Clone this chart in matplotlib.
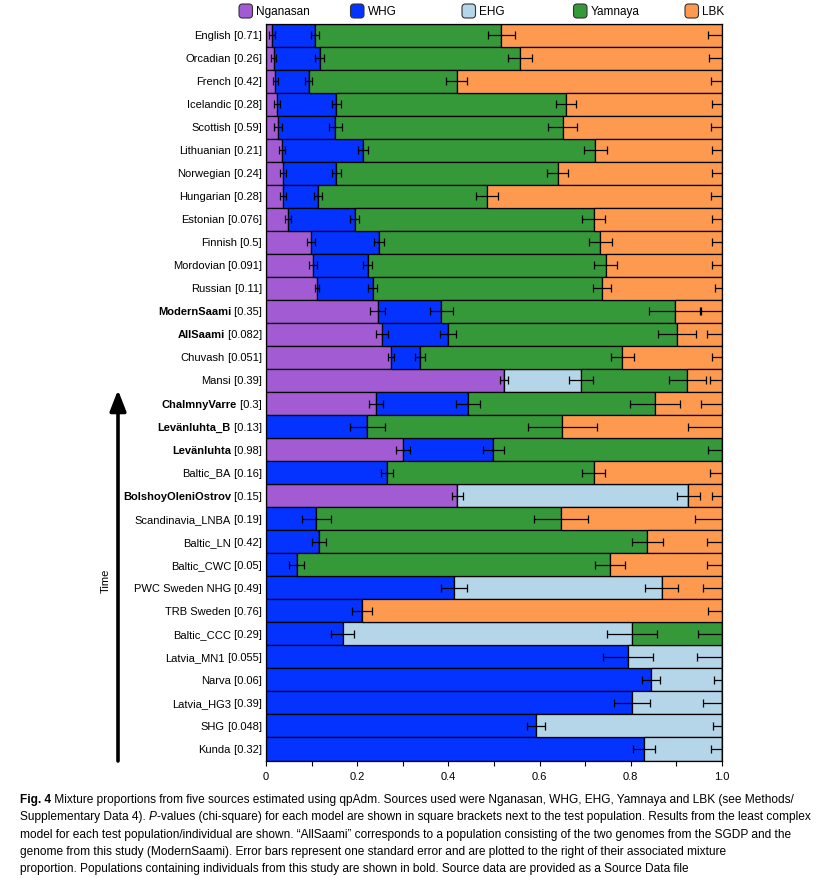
import matplotlib
matplotlib.use("Agg")
import matplotlib.pyplot as plt
import matplotlib.transforms as mtransforms
from matplotlib import font_manager
from matplotlib.patches import FancyBboxPatch, FancyArrowPatch

populations = ["English", "Orcadian", "French", "Icelandic", "Scottish", "Lithuanian",
               "Norwegian", "Hungarian", "Estonian", "Finnish", "Mordovian", "Russian",
               "ModernSaami", "AllSaami", "Chuvash", "Mansi", "ChalmnyVarre",
               "Levänluhta_B", "Levänluhta", "Baltic_BA", "BolshoyOleniOstrov",
               "Scandinavia_LNBA", "Baltic_LN", "Baltic_CWC", "PWC Sweden NHG",
               "TRB Sweden", "Baltic_CCC", "Latvia_MN1", "Narva", "Latvia_HG3", "SHG", "Kunda"]
pvalues = ["0.71", "0.26", "0.42", "0.28", "0.59", "0.21", "0.24", "0.28", "0.076", "0.5",
           "0.091", "0.11", "0.35", "0.082", "0.051", "0.39", "0.3", "0.13", "0.98", "0.16",
           "0.15", "0.19", "0.42", "0.05", "0.49", "0.76", "0.29", "0.055", "0.06", "0.39",
           "0.048", "0.32"]
bold_rows = ["ModernSaami", "AllSaami", "ChalmnyVarre", "Levänluhta_B", "Levänluhta",
             "BolshoyOleniOstrov"]

sources = ["Nganasan", "WHG", "EHG", "Yamnaya", "LBK"]
colors = ["#A35BD3", "#0433FF", "#B5D5E8", "#35993A", "#FE9A4F"]

# mixture proportions, one list per source, rows in the same order as populations
nganasan = [0.013, 0.017, 0.020, 0.024, 0.026, 0.035, 0.037, 0.037, 0.048, 0.099, 0.103, 0.112,
            0.245, 0.254, 0.274, 0.522, 0.241, 0, 0.300, 0, 0.419,
            0, 0, 0, 0, 0, 0, 0, 0, 0, 0, 0]
whg = [0.095, 0.101, 0.074, 0.130, 0.126, 0.177, 0.117, 0.077, 0.147, 0.149, 0.120, 0.122,
       0.139, 0.145, 0.064, 0, 0.202, 0.222, 0.198, 0.266, 0,
       0.110, 0.116, 0.067, 0.412, 0.211, 0.168, 0.794, 0.845, 0.803, 0.592, 0.829]
ehg = [0, 0, 0, 0, 0, 0, 0, 0, 0, 0, 0, 0,
       0, 0, 0, 0.169, 0, 0, 0, 0, 0.507,
       0, 0, 0, 0.456, 0, 0.635, 0.206, 0.155, 0.197, 0.408, 0.171]
yamnaya = [0.408, 0.439, 0.324, 0.503, 0.499, 0.510, 0.486, 0.371, 0.524, 0.485, 0.522, 0.503,
           0.513, 0.503, 0.443, 0.233, 0.410, 0.428, 0.502, 0.453, 0,
           0.537, 0.720, 0.688, 0, 0, 0.197, 0, 0, 0, 0, 0]
lbk = [0.484, 0.443, 0.582, 0.343, 0.349, 0.278, 0.360, 0.515, 0.281, 0.267, 0.255, 0.263,
       0.103, 0.098, 0.219, 0.076, 0.147, 0.350, 0, 0.281, 0.074,
       0.353, 0.164, 0.245, 0.132, 0.789, 0, 0, 0, 0, 0, 0]

# standard errors
se_nganasan = [0.006, 0.006, 0.0055, 0.007, 0.0095, 0.0075, 0.007, 0.007, 0.007, 0.008, 0.008, 0.004,
               0.0165, 0.0125, 0.007, 0.0085, 0.016, 0, 0.0157, 0, 0.012,
               0, 0, 0, 0, 0, 0, 0, 0, 0, 0, 0]
se_whg = [0.009, 0.010, 0.0075, 0.010, 0.0145, 0.011, 0.010, 0.009, 0.010, 0.011, 0.010, 0.010,
          0.025, 0.018, 0.011, 0, 0.0255, 0.038, 0.023, 0.013, 0,
          0.032, 0.0157, 0.017, 0.0286, 0.0215, 0.026, 0.055, 0.0196, 0.040, 0.020, 0.025]
se_ehg = [0, 0, 0, 0, 0, 0, 0, 0, 0, 0, 0, 0,
          0, 0, 0, 0.0265, 0, 0, 0, 0, 0.025,
          0, 0, 0, 0.036, 0, 0.0545, 0.055, 0.018, 0.041, 0.020, 0.024]
se_yamnaya = [0.029, 0.027, 0.0235, 0.022, 0.032, 0.025, 0.023, 0.024, 0.0255, 0.0255, 0.025, 0.020,
              0.057, 0.042, 0.0255, 0.040, 0.055, 0.075, 0.031, 0.025, 0,
              0.060, 0.034, 0.033, 0, 0, 0.052, 0, 0, 0, 0, 0]
se_lbk = [0.030, 0.028, 0.024, 0.022, 0.025, 0.022, 0.022, 0.024, 0.022, 0.022, 0.022, 0.016,
          0.048, 0.033, 0.022, 0.027, 0.045, 0.074, 0, 0.026, 0.021,
          0.059, 0.033, 0.033, 0.041, 0.031, 0, 0, 0, 0, 0, 0]

caption_lines = [
    [("Fig. 4", "bold"),
     (" Mixture proportions from five sources estimated using qpAdm. Sources used were "
      "Nganasan, WHG, EHG, Yamnaya and LBK (see Methods/", "normal")],
    [("Supplementary Data 4). ", "normal"), ("P", "italic"),
     ("-values (chi-square) for each model are shown in square brackets next to the test "
      "population. Results from the least complex", "normal")],
    [("model for each test population/individual are shown. \u201cAllSaami\u201d corresponds to a "
      "population consisting of the two genomes from the SGDP and the", "normal")],
    [("genome from this study (ModernSaami). Error bars represent one standard error and are "
      "plotted to the right of their associated mixture", "normal")],
    [("proportion. Populations containing individuals from this study are shown in bold. "
      "Source data are provided as a Source Data file", "normal")],
]

W, H = 825, 879


def have_font(name):
    try:
        font_manager.findfont(name, fallback_to_default=False)
        return True
    except Exception:
        return False


def inch(x, y):
    # pixel position measured from the top-left corner -> inches from bottom-left
    return x / 100, (H - y) / 100


def main():
    caption_font = "Liberation Sans Narrow" if have_font("Liberation Sans Narrow") else "Liberation Sans"
    plt.rcParams["font.family"] = ["Liberation Sans", "DejaVu Sans"]

    fig = plt.figure(figsize=(W / 100, H / 100), dpi=100)
    ax = fig.add_axes([266 / W, 1 - 761.5 / H, 456 / W, 737 / H])

    n = len(populations)
    rows = list(range(n))
    values = [nganasan, whg, ehg, yamnaya, lbk]
    errors = [se_nganasan, se_whg, se_ehg, se_yamnaya, se_lbk]

    left = [0.0] * n
    for vals, errs, col in zip(values, errors, colors):
        ax.barh(rows, vals, left=left, height=1.0, color=col, edgecolor="black",
                linewidth=0.9, zorder=2)
        right = [l + v for l, v in zip(left, vals)]
        # error bar sits at the right end of each mixture component
        xs = [r for r, v in zip(right, vals) if v > 0]
        ys = [i for i, v in zip(rows, vals) if v > 0]
        es = [e for e, v in zip(errs, vals) if v > 0]
        ax.errorbar(xs, ys, xerr=es, fmt="none", ecolor="black", elinewidth=0.9,
                    capsize=2.6, capthick=0.9, zorder=3)
        left = right

    ax.set_xlim(0, 1.0)
    ax.set_ylim(n - 0.5, -0.5)
    ax.set_yticks([])
    ax.set_xticks([0, 0.2, 0.4, 0.6, 0.8, 1.0])
    ax.set_xticklabels(["0", "0.2", "0.4", "0.6", "0.8", "1.0"])
    ax.set_xticks([0.1, 0.3, 0.5, 0.7, 0.9], minor=True)
    ax.tick_params(axis="x", which="both", direction="out", length=3.5, width=0.8,
                   labelsize=8, pad=4)
    for sp in ax.spines.values():
        sp.set_linewidth(0.9)

    # row labels: population name (bold for this study) + p-value
    trans = mtransforms.blended_transform_factory(ax.transAxes, ax.transData)
    for i, (name, p) in enumerate(zip(populations, pvalues)):
        tp = ax.text(-0.009, i, f" [{p}]", transform=trans, ha="right", va="center",
                     fontsize=8)
        ax.annotate(name, xy=(0, 0.5), xycoords=tp, ha="right", va="center", fontsize=8,
                    weight="bold" if name in bold_rows else "normal")

    # legend across the top
    for i, (src, col) in enumerate(zip(sources, colors)):
        x0 = 239 + i * 111.5
        patch = FancyBboxPatch(inch(x0, 19), 0.135, 0.14,
                               boxstyle="round,pad=0,rounding_size=0.035",
                               facecolor=col, edgecolor="#333333", linewidth=0.8,
                               transform=fig.dpi_scale_trans)
        fig.patches.append(patch)
        fig.text(*inch(x0 + 17, 12), src, transform=fig.dpi_scale_trans,
                 ha="left", va="center", fontsize=8.5)

    # time arrow
    fig.add_artist(FancyArrowPatch(
        inch(118, 762), inch(118, 391), transform=fig.dpi_scale_trans,
        arrowstyle="-|>,head_width=0.35,head_length=0.9", mutation_scale=14,
        linewidth=2.6, color="black", shrinkA=0, shrinkB=0))
    fig.text(*inch(106, 581), "Time", transform=fig.dpi_scale_trans, rotation=90,
             ha="center", va="center", fontsize=8)

    # caption, pieces chained left to right so bold / italic parts can be mixed
    caption_texts = []
    first_line = None
    for k, segs in enumerate(caption_lines):
        y = 800 + k * 17.3
        prev = None
        line = []
        for txt, style in segs:
            kw = dict(fontsize=9.5, family=[caption_font, "DejaVu Sans"], va="center")
            if style == "bold":
                kw["weight"] = "bold"
            if style == "italic":
                kw["style"] = "italic"
            if prev is None:
                t = fig.text(*inch(20, y), txt, transform=fig.dpi_scale_trans, ha="left", **kw)
            else:
                t = ax.annotate(txt, xy=(1, 0.5), xycoords=prev, ha="left", **kw)
            prev = t
            line.append(t)
        caption_texts.extend(line)
        if first_line is None:
            first_line = line

    # shrink the caption so the first line spans the same width as in the figure
    fig.canvas.draw()
    r = fig.canvas.get_renderer()
    width = first_line[-1].get_window_extent(r).x1 - first_line[0].get_window_extent(r).x0
    scale = 775 / width
    for t in caption_texts:
        t.set_fontsize(t.get_fontsize() * scale)

    fig.savefig("out.png", dpi=100, facecolor="white")


if __name__ == "__main__":
    main()
